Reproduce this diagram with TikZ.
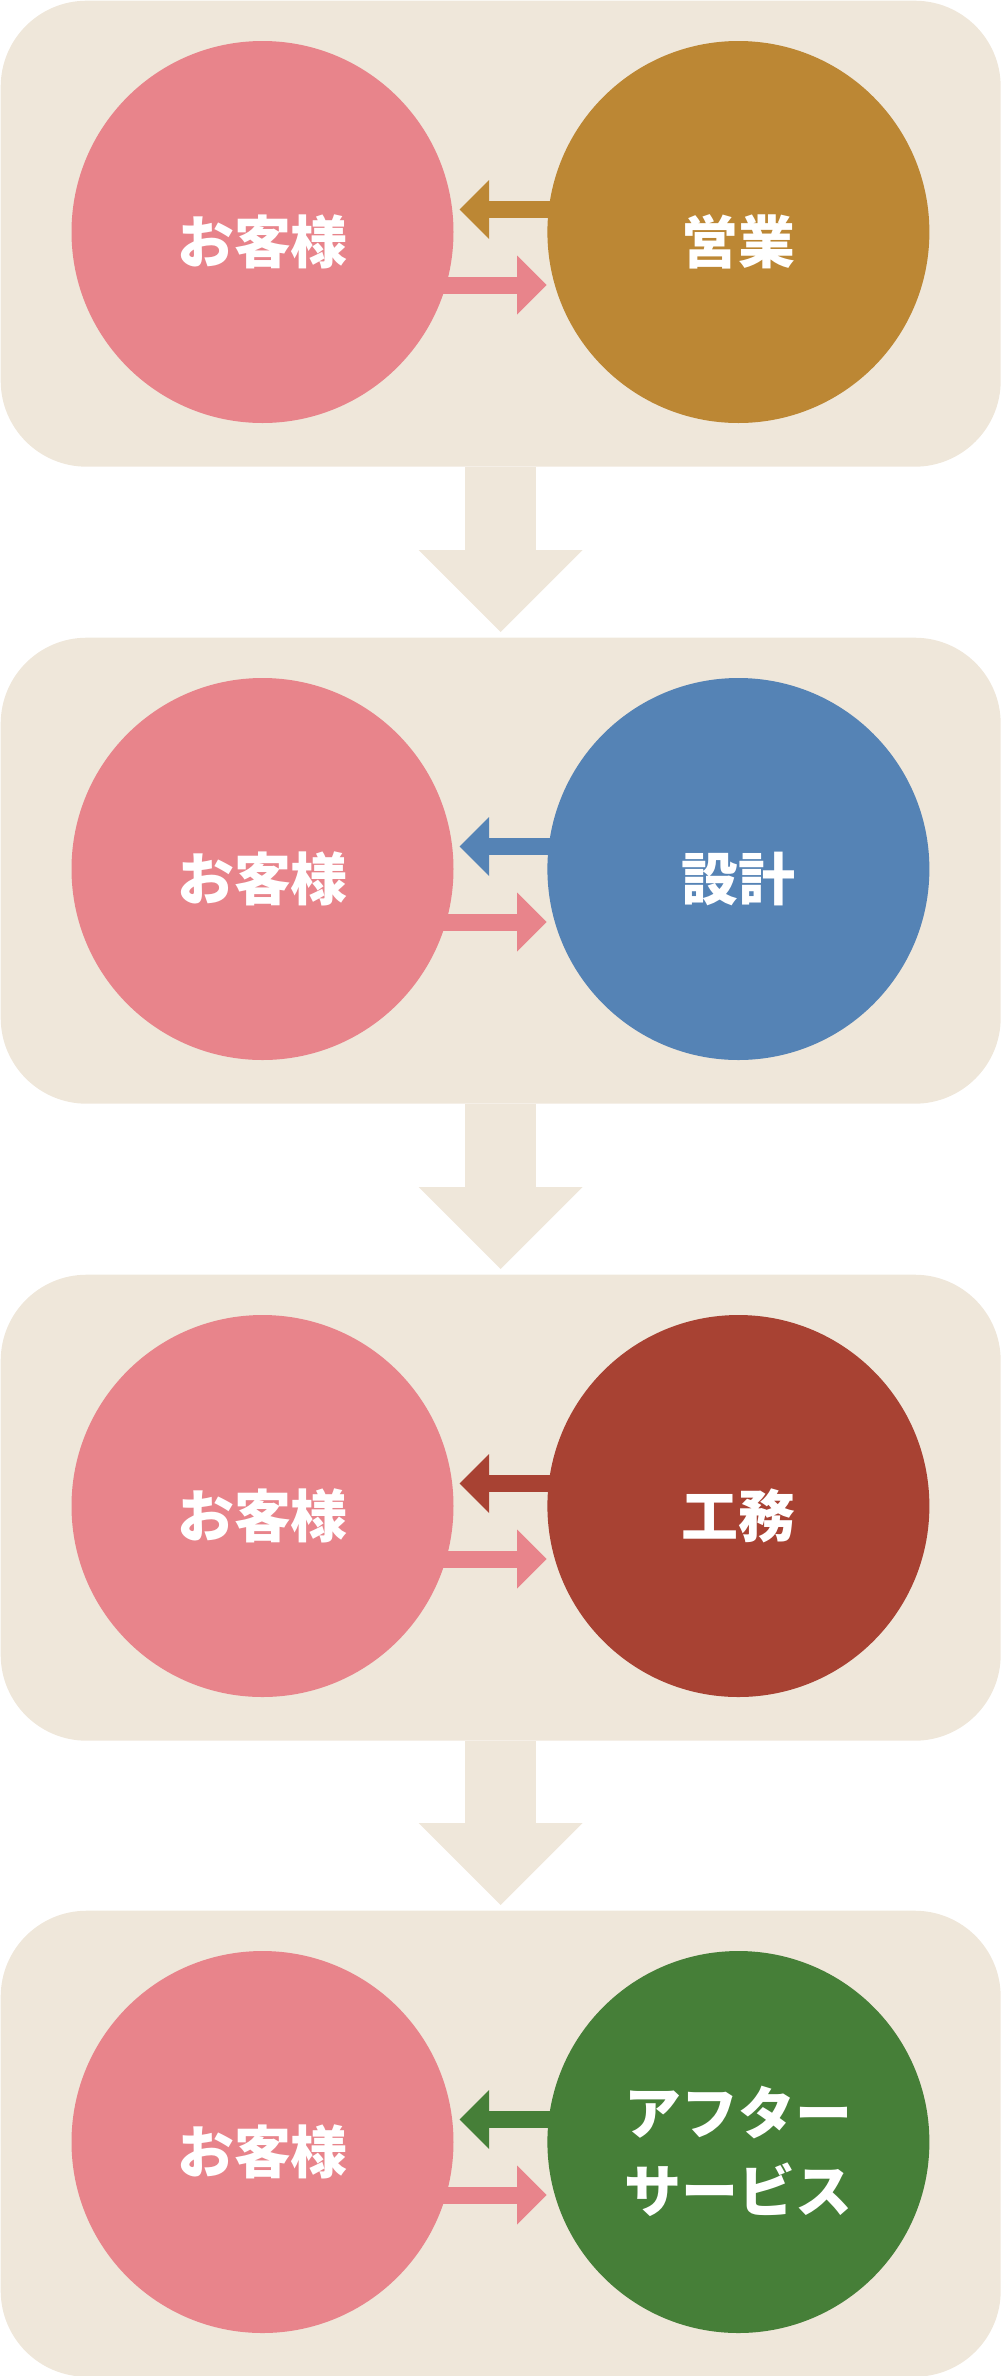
\documentclass[tikz,border=0pt]{standalone}
\usepackage{fontspec}
\newfontfamily\jpfont{Noto Sans CJK JP}
\usetikzlibrary{arrows.meta,positioning}
\definecolor{panelbg}{HTML}{EFE7DA}
\definecolor{custpink}{HTML}{E8848B}
\definecolor{salesgold}{HTML}{BC8734}
\definecolor{designblue}{HTML}{5583B5}
\definecolor{workred}{HTML}{A84233}
\definecolor{aftergreen}{HTML}{467F38}
\begin{document}
\begin{tikzpicture}[x=0.1mm, y=-0.1mm,
  panel/.style={fill=panelbg, rounded corners=8.6mm, minimum width=10cm,
    minimum height=4.66cm, inner sep=0pt, anchor=north west},
  ball/.style={circle, fill=#1, minimum size=3.82cm, inner sep=0pt},
  word/.style={text=white, align=center, inner sep=0pt, yshift=-0.95mm,
    font=\jpfont\bfseries\fontsize{16.2}{22}\selectfont},
  talk/.style={draw=#1, line width=1.7mm,
    -{Triangle[length=2.95mm, width=5.9mm, line width=0pt]}},
  down/.style={draw=panelbg, line width=7.1mm, shorten >=0.5mm,
    -{Triangle[length=8.2mm, width=16.4mm, line width=0pt]}}]
  \useasboundingbox (0,0) rectangle (1000,2376);
  \foreach \i/\y/\col/\txt in {1/0/salesgold/営業, 2/637/designblue/設計,
      3/1274/workred/工務, 4/1910/aftergreen/{アフター\\サービス}} {
    \node[panel] (p\i) at (0,\y) {};
    \node[ball=custpink, label={[word]center:お客様}] (c\i) at (262.5,\y+232) {};
    \node[ball=\col, right=9.25mm of c\i, label={[word]center:{\txt}}] (r\i) {};
    \draw[talk=\col] ([xshift=1mm, yshift=2.25mm]r\i.west)
      -- ([xshift=0.55mm, yshift=2.25mm]c\i.east);
    \draw[talk=custpink] ([xshift=-2mm, yshift=-5.3mm]c\i.east)
      -- ([yshift=-5.3mm]r\i.west);
  }
  \foreach \i/\j in {1/2, 2/3, 3/4}
    \draw[down] (p\i.south) -- (p\j.north);
\end{tikzpicture}
\end{document}
